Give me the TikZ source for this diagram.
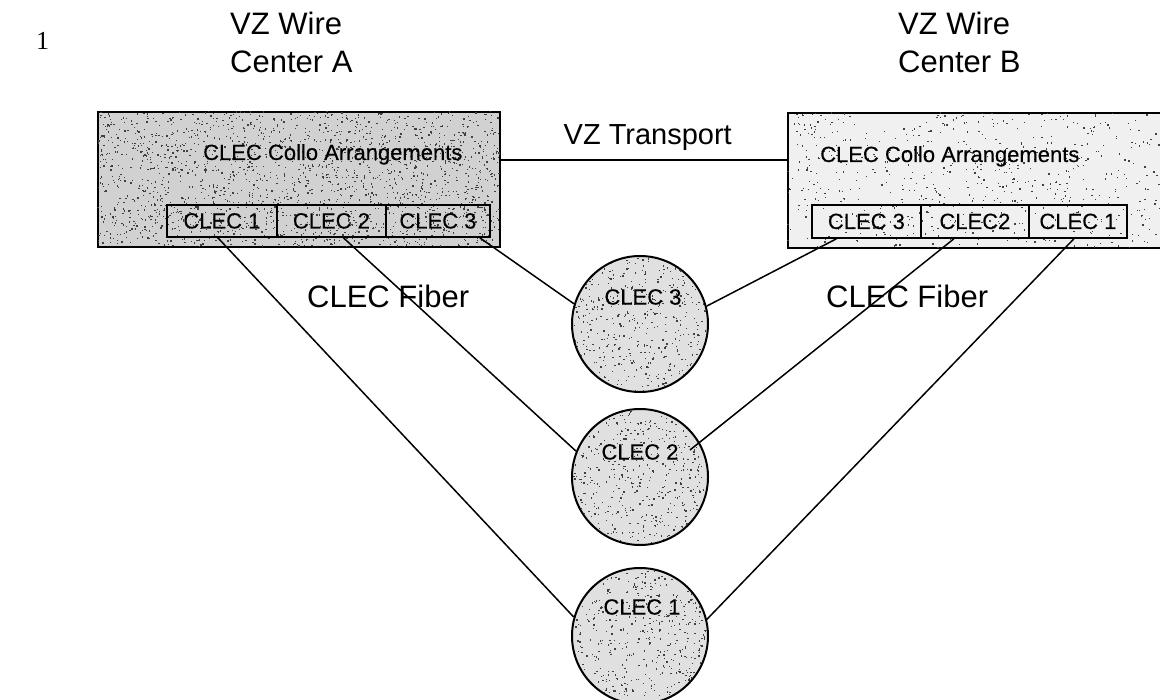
\documentclass[tikz,border=0pt]{standalone}
\usepackage{fontspec}
\setmainfont{Liberation Sans}
\newfontfamily\seriffont{Liberation Serif}
\newfontfamily\heavyfont[FakeBold=0.3]{Liberation Sans}
\usetikzlibrary{calc}
\begin{document}
\begin{tikzpicture}[x=1pt,y=-1pt,
  frame/.style={draw=black, line width=2.2pt, inner sep=0pt, anchor=north west},
  cellbox/.style={draw=black, line width=1.8pt, minimum height=32pt, inner sep=0pt, anchor=north west, font=\heavyfont\fontsize{22}{26}\selectfont},
  site/.style={circle, draw=black, line width=2pt, minimum size=136pt, inner sep=0pt},
  sitetext/.style={inner sep=0pt, font=\heavyfont\fontsize{22}{26}\selectfont},
  wire/.style={draw=black, line width=1.5pt},
  bigtext/.style={inner sep=0pt, font=\fontsize{30}{38}\selectfont},
  speck/.style={fill=black!75},
]
\useasboundingbox (0,0) rectangle (1160,700);
\clip (0,0) rectangle (1160,700);
\pgfmathsetseed{4711}

% page number
\node[inner sep=0pt, anchor=base west, font=\seriffont\fontsize{26}{30}\selectfont] (num) at (36,50) {1};

% titles
\node[bigtext, anchor=north west, align=left, font=\fontsize{31}{38}\selectfont] (titleA) at (230,12) {VZ Wire\\Center A};
\node[bigtext, anchor=north west, align=left, font=\fontsize{31}{38}\selectfont] (titleB) at (898,12) {VZ Wire\\Center B};

% wire center boxes
\node[frame, fill=black!18, minimum width=402pt, minimum height=135pt] (boxA) at (97,111) {};
\node[frame, fill=black!6, minimum width=380pt, minimum height=135pt] (boxB) at (787,112) {};

% CLEC sites
\node[site, fill=black!12] (c3) at (640,324) {};
\node[site, fill=black!12] (c2) at (640,477) {};
\node[site, fill=black!12] (c1) at (640,636) {};

% stipple texture
\begin{scope}
  \clip (boxA.north west) rectangle (boxA.south east);
  \foreach \k in {1,...,1900} \fill[speck] ($(boxA.north west)+({402*rnd},{135*rnd})$) rectangle ++(1.3,1.3);
\end{scope}
\begin{scope}
  \clip (boxB.north west) rectangle (boxB.south east);
  \foreach \k in {1,...,650} \fill[speck] ($(boxB.north west)+({380*rnd},{135*rnd})$) rectangle ++(1.3,1.3);
\end{scope}
\foreach \c in {c1,c2,c3}{
  \begin{scope}
    \clip (\c.center) circle (67pt);
    \foreach \k in {1,...,520} \fill[speck] ($(\c.center)+({136*rnd-68},{136*rnd-68})$) rectangle ++(1.3,1.3);
  \end{scope}
}

% box titles
\node[inner sep=0pt, anchor=base west, font=\heavyfont\fontsize{22}{26}\selectfont] (collA) at (203,160) {CLEC Collo Arrangements};
\node[inner sep=0pt, anchor=base west, font=\heavyfont\fontsize{22}{26}\selectfont] (collB) at (820,162) {CLEC Collo Arrangements};

% cells in box A
\node[cellbox, minimum width=110pt] (la1) at (166,204) {CLEC 1};
\node[cellbox, minimum width=109pt] (la2) at (276,204) {CLEC 2};
\node[cellbox, minimum width=104pt] (la3) at (385,204) {CLEC 3};

% cells in box B
\node[cellbox, minimum width=109pt, minimum height=33pt] (rb3) at (811,204) {CLEC 3};
\node[cellbox, minimum width=108pt, minimum height=33pt] (rb2) at (920,204) {CLEC2};
\node[cellbox, minimum width=98pt, minimum height=33pt] (rb1) at (1028,204) {CLEC 1};

% site labels
\node[sitetext] (t3) at (643,297) {CLEC 3};
\node[sitetext] (t2) at (640,452) {CLEC 2};
\node[sitetext] (t1) at (642,607) {CLEC 1};

% transport
\draw[wire] ($(boxA.north east)+(0,49)$) -- ($(boxB.north west)+(0,48)$);
\node[bigtext, anchor=base east, font=\fontsize{29}{34}\selectfont] (transport) at (732,145) {VZ Transport};

% fiber connectors, left
\draw[wire] ($(la1.south)+(-4,0)$) -- (c1.164);
\draw[wire] ($(la2.south)+(12,0)$) -- (c2.158);
\draw[wire] ($(la3.south east)+(-11,0)$) -- (c3.163);

% fiber connectors, right
\draw[wire] ($(rb3.south)+(-30,0)$) -- (c3.15);
\coordinate (c2in) at ($(c2.center)+(50,-27)$);
\draw[wire] ($(rb2.south)+(-21,0)$) -- (c2in);
\draw[wire] ($(rb1.south)+(-4,0)$) -- (c1.14);

% fiber labels
\node[bigtext, anchor=base west, font=\fontsize{31}{36}\selectfont] (fibA) at (307,308) {CLEC Fiber};
\node[bigtext, anchor=base west, font=\fontsize{31}{36}\selectfont] (fibB) at (826,308) {CLEC Fiber};
\end{tikzpicture}
\end{document}
